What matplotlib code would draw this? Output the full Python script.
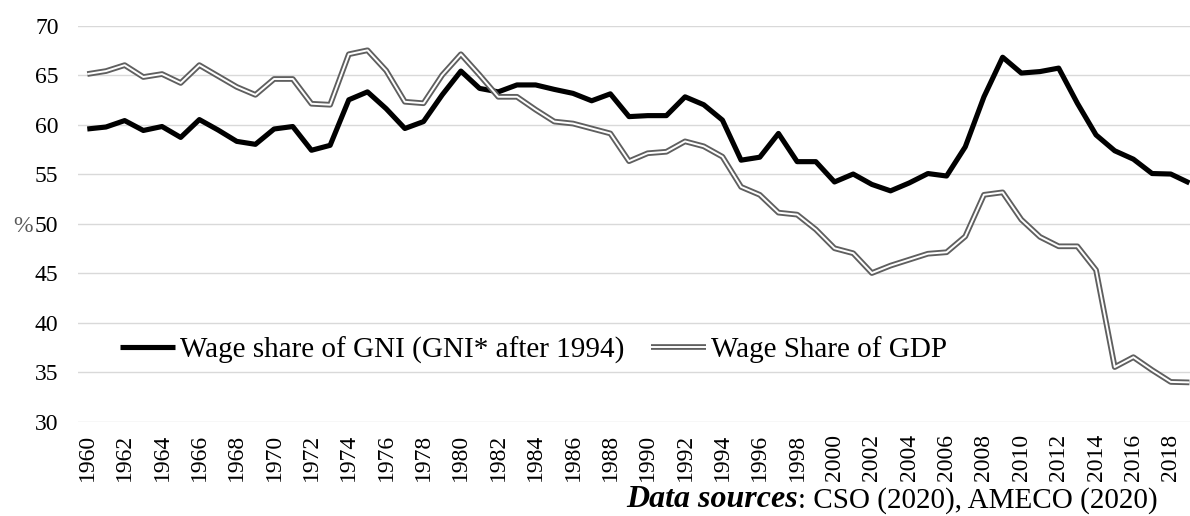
import matplotlib.pyplot as plt
import matplotlib.patheffects as pe

years = list(range(1960, 2020))

# wage share of GNI (GNI* after 1994), %
gni = [59.55, 59.75, 60.4, 59.4, 59.8, 58.7, 60.5, 59.45, 58.3, 58.0,
       59.55, 59.8, 57.4, 57.9, 62.5, 63.3, 61.6, 59.6, 60.3, 63.0,
       65.4, 63.65, 63.3, 64.0, 64.0, 63.55, 63.15, 62.4, 63.1, 60.8,
       60.9, 60.9, 62.8, 62.0, 60.45, 56.4, 56.7, 59.1, 56.25, 56.25,
       54.2, 55.0, 53.95, 53.3, 54.1, 55.05, 54.8, 57.75, 62.8, 66.8,
       65.2, 65.35, 65.7, 62.15, 58.95, 57.35, 56.5, 55.05, 55.0, 54.1]

# wage share of GDP, %
gdp = [65.1, 65.4, 66.0, 64.8, 65.1, 64.2, 66.0, 64.9, 63.8, 63.0,
       64.6, 64.6, 62.1, 62.0, 67.1, 67.5, 65.45, 62.3, 62.15, 65.0,
       67.1, 65.0, 62.8, 62.8, 61.5, 60.3, 60.1, 59.6, 59.1, 56.3,
       57.1, 57.25, 58.3, 57.8, 56.75, 53.7, 52.9, 51.1, 50.9, 49.4,
       47.5, 47.0, 45.0, 45.75, 46.35, 46.95, 47.1, 48.7, 52.9, 53.15,
       50.4, 48.65, 47.7, 47.7, 45.3, 35.5, 36.5, 35.2, 34.0, 33.95]

xticks = list(range(1960, 2019, 2))
yticks = list(range(30, 71, 5))

plt.rcParams['font.family'] = ['Liberation Serif', 'DejaVu Serif']

fig = plt.figure(figsize=(11.9, 5.16), dpi=100)
ax = fig.add_axes([0.0655, 0.1831, 0.9345, 0.7674])

ax.plot(years, gni, color='black', lw=3.7, solid_joinstyle='round',
        solid_capstyle='butt', label='Wage share of GNI (GNI* after 1994)', zorder=3)
ax.plot(years, gdp, color='white', lw=1.4, solid_joinstyle='round',
        solid_capstyle='butt', label='Wage Share of GDP', zorder=4,
        path_effects=[pe.Stroke(linewidth=4.1, foreground='#5f5f5f'), pe.Normal()])

ax.set_xlim(1959.5, 2019.03)
ax.set_ylim(30, 70)
ax.set_yticks(yticks)
ax.set_xticks(xticks)
ax.set_xticklabels([str(y) for y in xticks], rotation=90)
ax.tick_params(axis='y', length=0, pad=14, labelsize=17)
ax.tick_params(axis='x', length=0, pad=9, labelsize=17)
ax.grid(axis='y', color='#d9d9d9', lw=1.0)
ax.set_axisbelow(True)
for s in ax.spines.values():
    s.set_visible(False)

fig.text(0.011, 1 - 226 / 516, '%', color='#595959', fontsize=17, va='center')

fig.legend(loc='center left', bbox_to_anchor=(120 / 1190, 1 - 350 / 516),
           ncol=2, frameon=False, fontsize=21, borderpad=0, borderaxespad=0,
           handlelength=1.9, handletextpad=0.17, columnspacing=0.9)

t2 = fig.text(1158 / 1190, 0.004, ': CSO (2020), AMECO (2020)', fontsize=21,
              ha='right', va='bottom')
ax.annotate('Data sources', xy=(0, 0), xycoords=t2, fontsize=23,
            fontweight='bold', fontstyle='italic', ha='right', va='bottom')

fig.savefig('out.png', dpi=100)
